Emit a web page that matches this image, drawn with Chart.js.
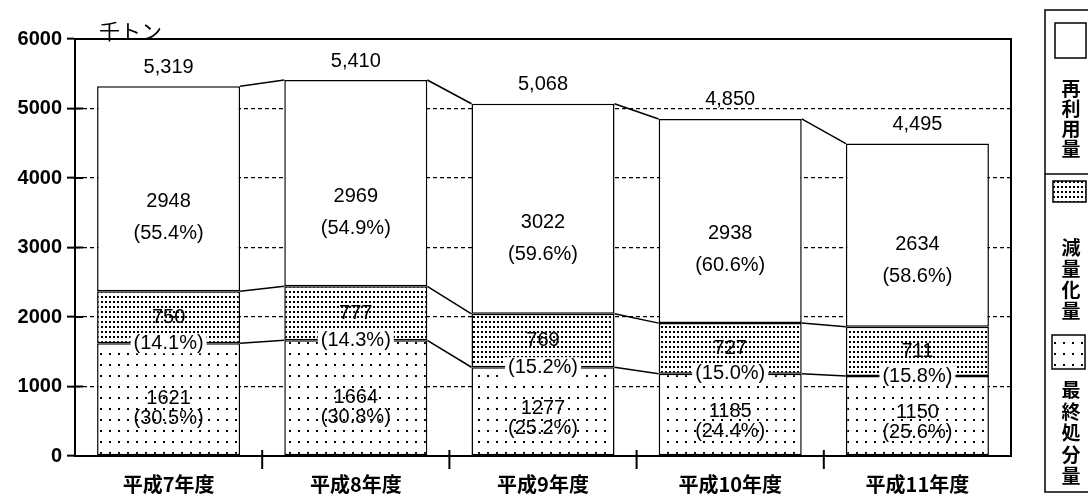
<!DOCTYPE html>
<html>
<head>
<meta charset="utf-8">
<script src="https://cdn.jsdelivr.net/npm/chart.js@4.4.0/dist/chart.umd.min.js"></script>
<style>
html, body { margin: 0; padding: 0; background: #fff; }
</style>
</head>
<body>
<canvas id="chart" width="1088" height="497"></canvas>
<script>
// data (千トン)
const years = ['平成7年度', '平成8年度', '平成9年度', '平成10年度', '平成11年度'];
const finalDisposal = [1621, 1664, 1277, 1185, 1150];
const reduction = [750, 777, 769, 727, 711];
const recycled = [2948, 2969, 3022, 2938, 2634];
const finalPct = ['30.5', '30.8', '25.2', '24.4', '25.6'];
const reductionPct = ['14.1', '14.3', '15.2', '15.0', '15.8'];
const recycledPct = ['55.4', '54.9', '59.6', '60.6', '58.6'];
const totals = ['5,319', '5,410', '5,068', '4,850', '4,495'];
const yTicks = [0, 1000, 2000, 3000, 4000, 5000, 6000];
const unitLabel = '千トン';

const NUM_FONT = "20px 'Liberation Sans', Arial, sans-serif";
const CJK = "'Noto Sans CJK JP', sans-serif";

Chart.defaults.font.family = "'Liberation Sans', Arial, sans-serif";
Chart.defaults.color = '#000';

function dotPattern(w, h, dw, dh) {
    const c = document.createElement('canvas');
    c.width = w; c.height = h;
    const g = c.getContext('2d');
    g.fillStyle = '#fff';
    g.fillRect(0, 0, w, h);
    g.fillStyle = '#000';
    g.fillRect(1, 1, dw, dh);
    return g.createPattern(c, 'repeat');
}

const sparse = dotPattern(9, 11, 2, 2);
const dense = dotPattern(4, 5, 2, 2);

function label(ctx, text, x, y, bg) {
    if (bg) {
        const w = ctx.measureText(text).width + 6;
        ctx.fillStyle = '#fff';
        ctx.fillRect(x - w / 2, y - 10, w, 20);
    }
    ctx.fillStyle = '#000';
    ctx.fillText(text, x, y);
}

const decorations = {
    id: 'decorations',
    afterDatasetsDraw(chart) {
        const ctx = chart.ctx;
        const metas = [0, 1, 2].map(i => chart.getDatasetMeta(i).data);
        ctx.save();

        // connecting lines between the bars
        ctx.strokeStyle = '#000';
        ctx.lineWidth = 1.5;
        metas.forEach(bars => {
            for (let i = 0; i < bars.length - 1; i++) {
                const a = bars[i], b = bars[i + 1];
                ctx.beginPath();
                ctx.moveTo(a.x + a.width / 2, a.y);
                ctx.lineTo(b.x - b.width / 2, b.y);
                ctx.stroke();
            }
        });

        ctx.font = NUM_FONT;
        ctx.textAlign = 'center';
        ctx.textBaseline = 'middle';
        for (let i = 0; i < years.length; i++) {
            const f = metas[0][i], r = metas[1][i], t = metas[2][i];
            // bottom segment
            const fc = f.base - 0.42 * (f.base - f.y);
            label(ctx, String(finalDisposal[i]), f.x, fc - 10);
            label(ctx, '(' + finalPct[i] + '%)', f.x, fc + 10);
            // middle segment
            label(ctx, String(reduction[i]), r.x, (r.y + r.base) / 2);
            label(ctx, '(' + reductionPct[i] + '%)', r.x, r.base, true);
            // top segment
            const tc = t.y + 0.64 * (t.base - t.y);
            label(ctx, String(recycled[i]), t.x, tc - 16);
            label(ctx, '(' + recycledPct[i] + '%)', t.x, tc + 16);
            // total
            label(ctx, totals[i], t.x, t.y - 19);
        }
        ctx.restore();
    },
    afterDraw(chart) {
        const ctx = chart.ctx;
        const area = chart.chartArea;
        const x = chart.scales.x;
        const y = chart.scales.y;
        ctx.save();
        ctx.strokeStyle = '#000';

        // frame
        ctx.lineWidth = 2;
        ctx.strokeRect(area.left, area.top, area.right - area.left, area.bottom - area.top);

        // inner half of the y tick crosses
        yTicks.forEach(v => {
            const py = y.getPixelForValue(v);
            ctx.beginPath();
            ctx.moveTo(area.left, py);
            ctx.lineTo(area.left + 8, py);
            ctx.stroke();
        });

        // category separators on the x axis
        for (let i = 0; i < years.length - 1; i++) {
            const px = (x.getPixelForValue(i) + x.getPixelForValue(i + 1)) / 2;
            ctx.beginPath();
            ctx.moveTo(px, area.bottom - 6);
            ctx.lineTo(px, area.bottom + 13);
            ctx.stroke();
        }

        // unit
        ctx.fillStyle = '#000';
        ctx.font = '21px ' + CJK;
        ctx.textAlign = 'left';
        ctx.textBaseline = 'middle';
        ctx.fillText(unitLabel, area.left + 24, area.top - 8);

        // legend box on the right
        ctx.lineWidth = 1.5;
        ctx.strokeRect(1045, 10, 50, 482);
        const ds = chart.data.datasets;
        const slots = [
            { ds: 2, box: [1055, 23, 31, 35], textY: 89, step: 20 },
            { ds: 1, box: [1053, 181, 33, 21], textY: 248, step: 21 },
            { ds: 0, box: [1052, 335, 33, 34], textY: 390, step: 21.5 }
        ];
        ctx.beginPath();
        ctx.moveTo(1045, 174);
        ctx.lineTo(1088, 174);
        ctx.stroke();
        ctx.font = 'bold 19px ' + CJK;
        ctx.textAlign = 'center';
        slots.forEach(s => {
            const [bx, by, bw, bh] = s.box;
            ctx.fillStyle = ds[s.ds].backgroundColor;
            ctx.fillRect(bx, by, bw, bh);
            ctx.strokeRect(bx, by, bw, bh);
            ctx.fillStyle = '#000';
            [...ds[s.ds].label].forEach((ch, k) => {
                ctx.fillText(ch, 1071, s.textY + k * s.step);
            });
        });
        ctx.restore();
    }
};

const barStyle = {
    borderColor: '#000',
    borderWidth: 1.5,
    borderSkipped: false,
    barPercentage: 0.764,
    categoryPercentage: 1
};

new Chart(document.getElementById('chart'), {
    type: 'bar',
    data: {
        labels: years,
        datasets: [
            Object.assign({ label: '最終処分量', data: finalDisposal, backgroundColor: sparse }, barStyle),
            Object.assign({ label: '減量化量', data: reduction, backgroundColor: dense }, barStyle),
            Object.assign({ label: '再利用量', data: recycled, backgroundColor: '#fff' }, barStyle)
        ]
    },
    options: {
        responsive: false,
        animation: false,
        layout: { padding: { top: 39, right: 77, left: 0, bottom: 0 } },
        plugins: {
            legend: { display: false },
            tooltip: { enabled: false }
        },
        scales: {
            x: {
                stacked: true,
                grid: { display: false, drawTicks: false },
                border: { color: '#000', width: 2 },
                ticks: {
                    padding: 16,
                    color: '#000',
                    font: { family: CJK, size: 20, weight: 'bold' }
                },
                afterFit(scale) { scale.height = 41; }
            },
            y: {
                stacked: true,
                min: 0,
                max: 6000,
                afterBuildTicks(scale) { scale.ticks = yTicks.map(v => ({ value: v })); },
                grid: { color: '#000', lineWidth: 1.3, tickLength: 8, tickWidth: 2 },
                border: { color: '#000', width: 2, dash: [4, 3] },
                ticks: {
                    padding: 5,
                    color: '#000',
                    font: { size: 20, weight: 'bold' },
                    callback: v => String(v)
                },
                afterFit(scale) { scale.width = 75; }
            }
        }
    },
    plugins: [decorations]
});
</script>
</body>
</html>
